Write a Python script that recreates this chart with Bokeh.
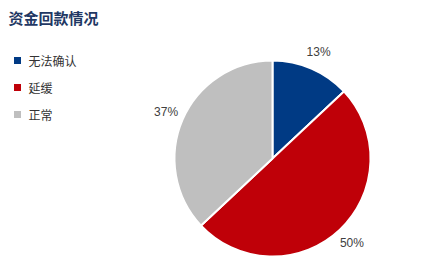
import numpy as np
from bokeh.plotting import figure
from bokeh.models import ColumnDataSource, Range1d
from bokeh.core.properties import value
from bokeh.embed import file_html
from bokeh.resources import INLINE

categories = ["无法确认", "延缓", "正常"]
values = [13, 50, 37]
colors = ["#003A84", "#BF0008", "#BFBFBF"]
title = "资金回款情况"

W, H = 438, 276
p = figure(width=W, height=H, output_backend="svg", toolbar_location=None,
           x_range=Range1d(0, W), y_range=Range1d(0, H), min_border=0)
p.axis.visible = False
p.grid.visible = False
p.outline_line_color = None
p.background_fill_color = "white"

total = float(sum(values))
frac = np.array(values) / total
cum = np.concatenate([[0], np.cumsum(frac)])
start = np.pi / 2 - cum[:-1] * 2 * np.pi
end = np.pi / 2 - cum[1:] * 2 * np.pi
cx, cy, r = 272, H - 158, 98

src = ColumnDataSource(dict(start=start, end=end, color=colors))
p.wedge(x=cx, y=cy, radius=r, start_angle="start", end_angle="end",
        direction="clock", fill_color="color", line_color="white", line_width=2,
        source=src)

mid = (cum[:-1] + cum[1:]) / 2 * 2 * np.pi
lr = 116
lx = cx + lr * np.sin(mid)
ly = cy + lr * np.cos(mid)
labels = [f"{v:.0f}%" for v in frac * 100]
p.text(x=lx, y=ly, text=labels, text_align="center", text_baseline="middle",
       text_font=value("Liberation Sans"), text_font_size="12px", text_color="#404040")

# legend
ly0 = H - np.array([60, 87, 114])
p.scatter(x=[17] * 3, y=ly0, marker="square", size=7, fill_color=colors, line_color=None)
p.text(x=[28] * 3, y=ly0, text=categories, text_baseline="middle",
       text_font=value("Noto Sans CJK SC"), text_font_size="12px", text_color="#333333")

p.text(x=[8], y=[H - 17], text=[title], text_baseline="middle",
       text_font=value("Noto Sans CJK SC"), text_font_style="bold",
       text_font_size="15px", text_color="#1F3864")

open("out.html", "w").write(file_html(p, INLINE))
